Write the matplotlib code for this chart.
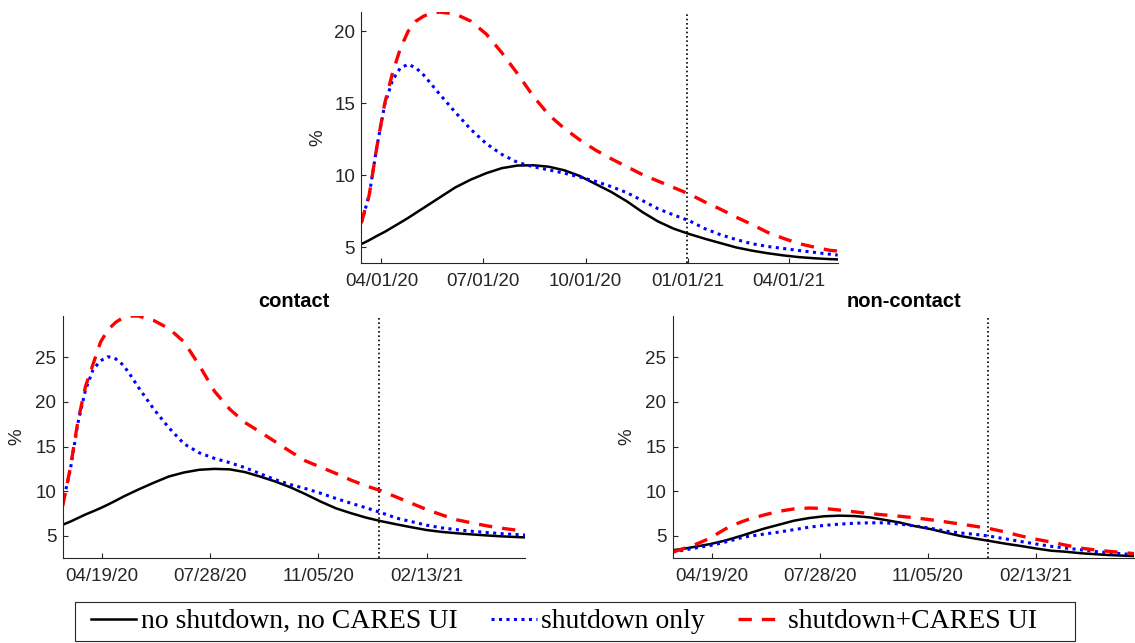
import numpy as np
import matplotlib
matplotlib.use("Agg")
import matplotlib.pyplot as plt
import matplotlib.dates as mdates
from matplotlib.font_manager import FontProperties
from matplotlib.patches import Rectangle

plt.rcParams['font.family'] = ['Liberation Sans', 'DejaVu Sans']

# ---------------- data ----------------
start_date = np.datetime64('2020-03-14')
end_date = np.datetime64('2021-05-15')
policy_end = np.datetime64('2020-12-31')
day_offsets = [0, 7, 14, 21, 28, 35, 42, 49, 56, 63, 70, 84, 98, 112, 126, 140, 154, 168,
               182, 196, 210, 224, 238, 252, 266, 280, 294, 308, 322, 336, 350, 364, 378,
               392, 406, 420, 427]
dates = start_date + np.array(day_offsets, dtype='timedelta64[D]')

series_labels = ['no shutdown, no CARES UI', 'shutdown only', 'shutdown+CARES UI']

# aggregate (top panel)
top_none = [5.23, 5.5, 5.8, 6.08, 6.4, 6.72, 7.05, 7.4, 7.75, 8.1, 8.45, 9.15, 9.7, 10.15,
            10.5, 10.68, 10.7, 10.6, 10.35, 9.95, 9.4, 8.85, 8.2, 7.45, 6.8, 6.3, 5.93, 5.6,
            5.3, 5.0, 4.78, 4.6, 4.45, 4.33, 4.25, 4.19, 4.17]
top_shut = [6.7, 8.6, 12.0, 14.9, 16.6, 17.45, 17.7, 17.45, 16.95, 16.3, 15.65, 14.4, 13.2,
            12.2, 11.45, 10.9, 10.6, 10.38, 10.15, 9.88, 9.58, 9.22, 8.8, 8.25, 7.68, 7.25,
            6.85, 6.3, 5.88, 5.55, 5.26, 5.07, 4.93, 4.79, 4.66, 4.53, 4.47]
top_cares = [6.7, 8.6, 12.0, 15.0, 17.1, 18.8, 20.0, 20.7, 21.05, 21.25, 21.32, 21.2, 20.7,
             19.8, 18.5, 17.05, 15.5, 14.2, 13.25, 12.45, 11.75, 11.15, 10.6, 10.05, 9.6, 9.15,
             8.7, 8.15, 7.65, 7.1, 6.6, 6.05, 5.64, 5.27, 5.02, 4.8, 4.75]

# contact
con_none = [6.25, 6.6, 7.0, 7.4, 7.75, 8.12, 8.52, 8.95, 9.4, 9.8, 10.2, 10.95, 11.65, 12.1,
            12.4, 12.5, 12.45, 12.15, 11.65, 11.1, 10.45, 9.68, 8.85, 8.1, 7.55, 7.05, 6.65,
            6.3, 5.97, 5.66, 5.45, 5.3, 5.17, 5.05, 4.95, 4.87, 4.84]
con_shut = [8.6, 12.4, 17.6, 21.3, 23.6, 24.6, 25.05, 24.8, 24.1, 22.9, 21.6, 19.2, 17.1,
            15.3, 14.3, 13.68, 13.2, 12.65, 11.98, 11.3, 10.75, 10.3, 9.78, 9.2, 8.66, 8.15,
            7.6, 7.0, 6.6, 6.2, 5.9, 5.7, 5.52, 5.38, 5.25, 5.15, 5.1]
con_cares = [8.35, 12.6, 17.8, 21.7, 24.2, 26.7, 28.1, 28.9, 29.45, 29.6, 29.6, 29.1, 28.2,
             26.7, 24.1, 21.2, 19.2, 17.7, 16.65, 15.55, 14.45, 13.4, 12.7, 12.0, 11.25,
             10.6, 10.05, 9.35, 8.65, 7.95, 7.35, 6.8, 6.45, 6.12, 5.85, 5.63, 5.58]

# non-contact
non_none = [3.4, 3.52, 3.65, 3.8, 3.95, 4.1, 4.3, 4.5, 4.75, 5.0, 5.27, 5.8, 6.25, 6.7, 7.0,
            7.2, 7.27, 7.23, 7.08, 6.8, 6.5, 6.1, 5.78, 5.38, 5.0, 4.7, 4.42, 4.13, 3.88, 3.6,
            3.35, 3.23, 3.06, 2.95, 2.85, 2.78, 2.75]
non_shut = [3.2, 3.35, 3.5, 3.65, 3.8, 3.93, 4.12, 4.33, 4.55, 4.78, 4.95, 5.2, 5.43, 5.7,
            5.98, 6.18, 6.32, 6.42, 6.47, 6.47, 6.33, 6.12, 5.88, 5.55, 5.33, 5.18, 4.96,
            4.67, 4.38, 4.1, 3.84, 3.64, 3.44, 3.25, 3.1, 2.97, 2.93]
non_cares = [3.23, 3.45, 3.75, 4.05, 4.4, 4.78, 5.3, 5.8, 6.2, 6.55, 6.85, 7.33, 7.75, 8.02,
             8.12, 8.08, 7.9, 7.7, 7.5, 7.35, 7.2, 7.03, 6.82, 6.58, 6.33, 6.08, 5.8, 5.43,
             5.0, 4.63, 4.32, 3.96, 3.63, 3.42, 3.25, 3.1, 3.03]

top_xticks = ['2020-04-01', '2020-07-01', '2020-10-01', '2021-01-01', '2021-04-01']
bottom_xticks = ['2020-04-19', '2020-07-28', '2020-11-05', '2021-02-13']
top_yticks = [5, 10, 15, 20]
bottom_yticks = [5, 10, 15, 20, 25]

# ---------------- figure ----------------
W, H = 1135, 643
fig = plt.figure(figsize=(W / 100, H / 100), dpi=100)
fig.patch.set_facecolor('white')

def px_axes(x0, y0, x1, y1):
    return fig.add_axes([x0 / W, 1 - y1 / H, (x1 - x0) / W, (y1 - y0) / H])

ax_top = px_axes(361.3, 11.7, 837.7, 263.3)
ax_con = px_axes(62.7, 316.0, 525.3, 558.3)
ax_non = px_axes(672.7, 316.0, 1134.3, 558.3)

GRAY = '#262626'
line_styles = [
    dict(color='black', lw=1.8, linestyle='-'),
    dict(color='#0000ff', lw=2.2, linestyle=(0, (1, 1.45))),
    dict(color='#ff0000', lw=2.4, linestyle=(0, (4, 3))),
]

def draw(ax, ys, xticks, yticks, ylim, label_x, title=None):
    handles = []
    for y, st, lab in zip(ys, line_styles, series_labels):
        h, = ax.plot(dates, y, label=lab, **st)
        handles.append(h)
    ax.axvline(policy_end, color='black', lw=1.2, linestyle=(0, (1, 1.6)))
    ax.set_xlim(start_date, end_date)
    ax.set_ylim(*ylim)
    ax.set_xticks([np.datetime64(t) for t in xticks])
    ax.xaxis.set_major_formatter(mdates.DateFormatter('%m/%d/%y'))
    ax.set_yticks(yticks)
    for s in ['top', 'right']:
        ax.spines[s].set_visible(False)
    for s in ['left', 'bottom']:
        ax.spines[s].set_color(GRAY)
        ax.spines[s].set_linewidth(0.8)
    ax.tick_params(direction='in', length=3.6, width=0.8, color=GRAY,
                   labelcolor=GRAY, labelsize=13.5)
    ax.tick_params(axis='x', pad=7)
    ax.tick_params(axis='y', pad=4.5)
    ax.set_ylabel('%', fontsize=13.5, color=GRAY)
    ax.yaxis.set_label_coords(label_x, 0.5)
    if title:
        ax.set_title(title, fontsize=14.5, fontweight='bold', pad=6.5)
    return handles

handles = draw(ax_top, [top_none, top_shut, top_cares], top_xticks, top_yticks,
               (3.9, 21.35), -0.074)
draw(ax_con, [con_none, con_shut, con_cares], bottom_xticks, bottom_yticks,
     (2.5, 29.6), -0.0815, title='contact')
draw(ax_non, [non_none, non_shut, non_cares], bottom_xticks, bottom_yticks,
     (2.5, 29.6), -0.080, title='non-contact')

# legend box
fig.patches.append(Rectangle((75 / W, 1 - 641 / H), 1000 / W, 39.3 / H,
                             transform=fig.transFigure, facecolor='white',
                             edgecolor=GRAY, lw=0.8, zorder=0))
leg_font = FontProperties(family='Liberation Serif', size=20)
leg = fig.legend(handles, series_labels, loc='center left', ncol=3,
                 bbox_to_anchor=(90.6 / W, 1 - 621.5 / H),
                 prop=leg_font, frameon=False, borderpad=0, handlelength=1.65,
                 handletextpad=0.16, columnspacing=1.2, borderaxespad=0)

fig.savefig('out.png', dpi=100, facecolor='white')
